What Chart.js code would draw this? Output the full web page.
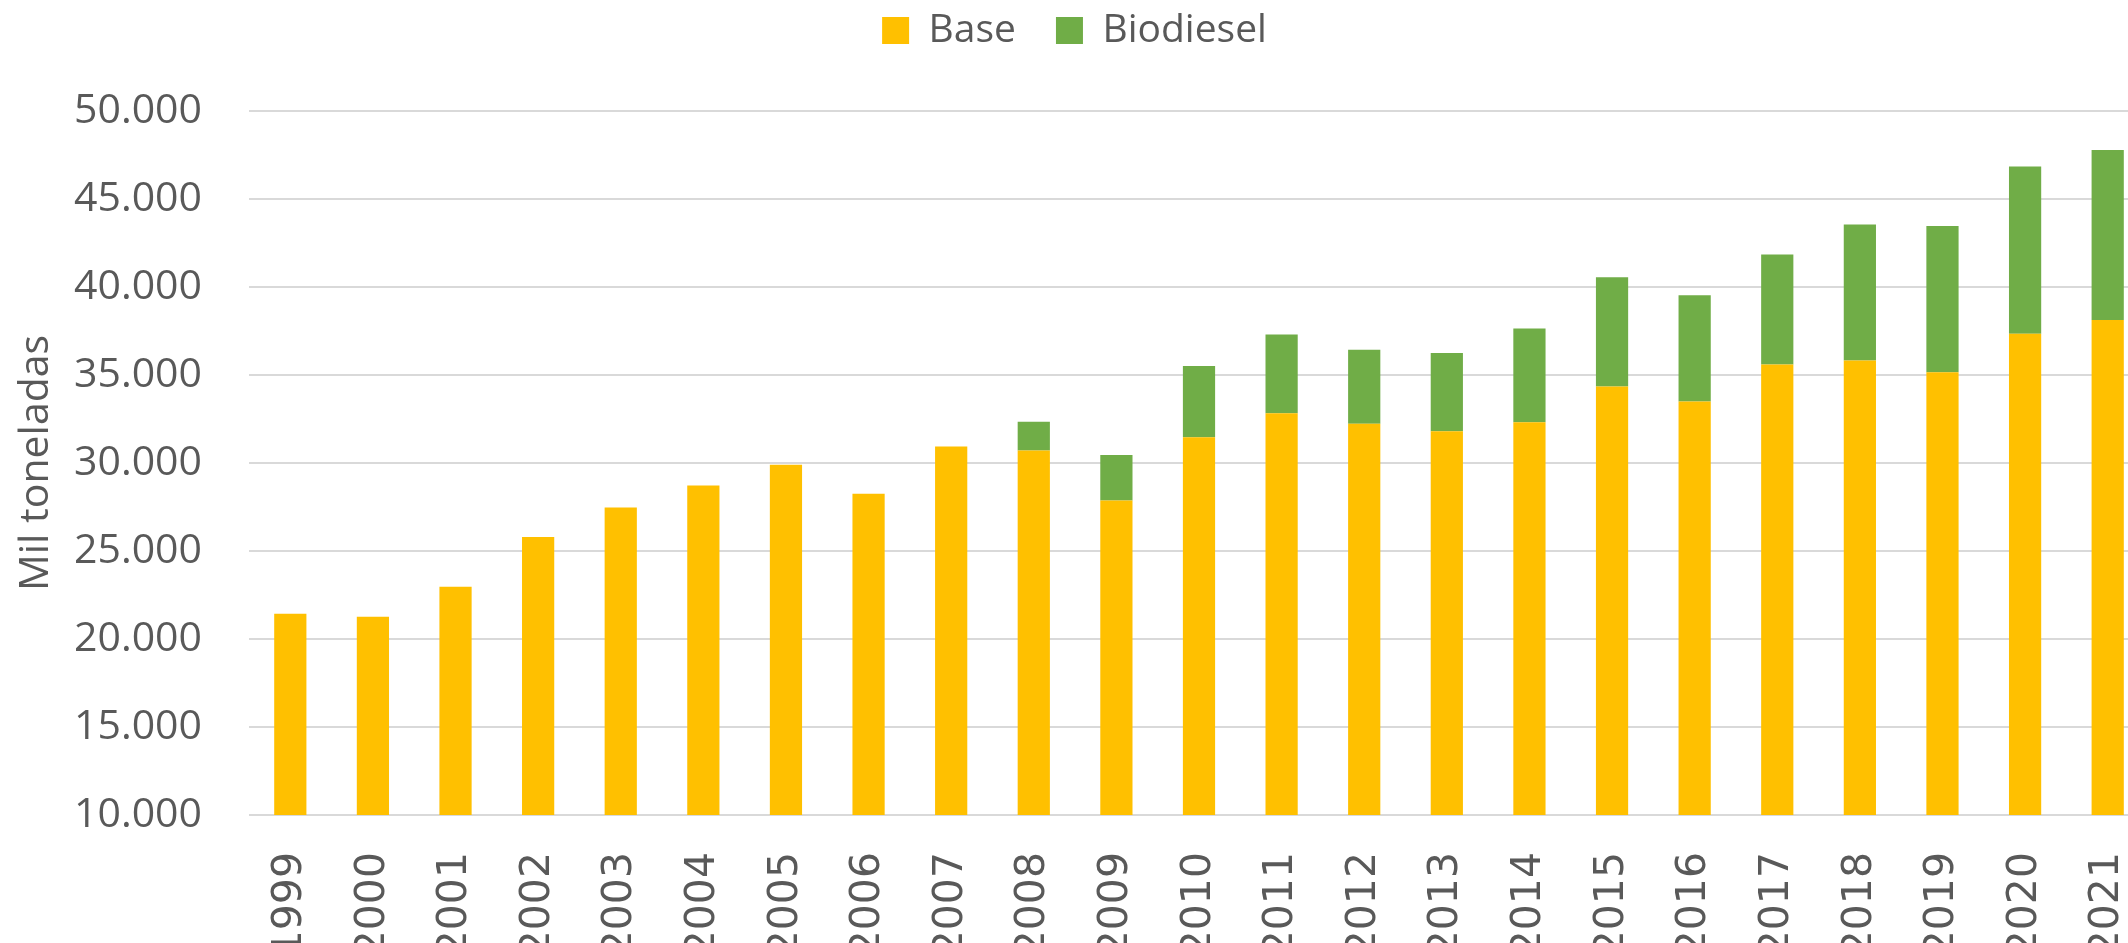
<!DOCTYPE html>
<html>
<head>
<meta charset="utf-8">
<script src="https://cdn.jsdelivr.net/npm/chart.js@4"></script>
<style>
  html, body { margin: 0; padding: 0; background: #fff; overflow: hidden; }
  #wrap { width: 2128px; height: 943px; overflow: hidden; }
  #chart { display: block; width: 2162px; height: 943px; }
</style>
</head>
<body>
<div id="wrap"><canvas id="chart" width="2162" height="943"></canvas></div>
<script>
const years = ['1999','2000','2001','2002','2003','2004','2005','2006','2007','2008','2009','2010',
               '2011','2012','2013','2014','2015','2016','2017','2018','2019','2020','2021'];
const base = [21440,21270,22970,25800,27470,28720,29900,28250,30940,30710,27870,31470,
              32830,32230,31810,32320,34350,33500,35600,35820,35150,37350,38130];
const biodiesel = [null,null,null,null,null,null,null,null,null,1630,2580,4040,
                   4470,4210,4440,5320,6210,6030,6250,7730,8310,9500,9650];
const yTicks = [10000,15000,20000,25000,30000,35000,40000,45000,50000];

const grey = '#595959';
const fmt = v => String(v).replace(/\B(?=(\d{3})+(?!\d))/g, '.');

const ctx = document.querySelector('#chart').getContext('2d');
const chart = new Chart(ctx, {
    type: 'bar',
    data: {
        labels: years,
        datasets: [{
            label: 'Base',
            data: base,
            backgroundColor: '#FFC000'
        },{
            label: 'Biodiesel',
            data: biodiesel,
            backgroundColor: '#70AD47'
        }]
    },
    options: {
        responsive: false,
        animation: false,
        categoryPercentage: 1,
        barPercentage: 0.39,
        // canvas is wider than the page so the last bar gets cut like in the original
        layout: { padding: { left: 0, right: 13, top: -29, bottom: 0 } },
        plugins: {
            legend: {
                position: 'top',
                labels: {
                    boxWidth: 27,
                    boxHeight: 27,
                    padding: 40,
                    color: grey,
                    font: { family: 'Open Sans', size: 39 }
                }
            },
            // empty spacer between legend and plot
            title: {
                display: true,
                text: '',
                weight: 500,
                padding: { top: 50, bottom: 0 },
                font: { size: 1, lineHeight: 1 }
            },
            tooltip: { enabled: false }
        },
        scales: {
            x: {
                stacked: true,
                grid: { display: false },
                border: { display: false },
                ticks: {
                    autoSkip: false,
                    minRotation: 90,
                    maxRotation: 90,
                    padding: 29,
                    color: grey,
                    font: { family: 'DejaVu Sans', size: 41 }
                },
                afterFit: s => {
                    s.height = 128;
                    s.paddingLeft = 0;
                    s.paddingRight = 0;
                }
            },
            y: {
                stacked: true,
                min: 10000,
                max: 50000,
                afterBuildTicks: s => { s.ticks = yTicks.map(v => ({ value: v })); },
                grid: { color: '#d9d9d9', lineWidth: 2, drawTicks: false },
                border: { display: false },
                ticks: {
                    padding: 47,
                    color: grey,
                    font: { family: 'Open Sans', size: 41 },
                    callback: v => fmt(v)
                },
                title: {
                    display: true,
                    text: 'Mil toneladas',
                    color: grey,
                    padding: { top: 12, bottom: 0 },
                    font: { family: 'Open Sans', size: 41 }
                },
                afterFit: s => { s.width = 249; }
            }
        }
    }
});
</script>
</body>
</html>
